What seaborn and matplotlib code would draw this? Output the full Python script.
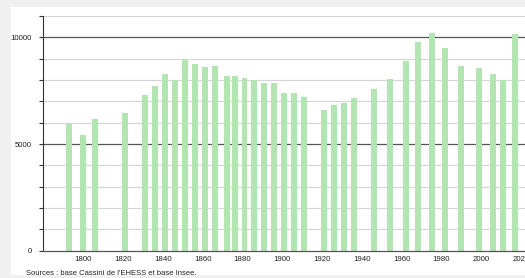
import matplotlib
matplotlib.use("Agg")
import matplotlib.pyplot as plt
import seaborn as sns
import pandas as pd
from matplotlib.patches import Rectangle

years = [1793, 1800, 1806, 1821, 1831, 1836, 1841, 1846, 1851, 1856, 1861, 1866,
         1872, 1876, 1881, 1886, 1891, 1896, 1901, 1906, 1911, 1921, 1926, 1931,
         1936, 1946, 1954, 1962, 1968, 1975, 1982, 1990, 1999, 2006, 2011, 2017]
population = [5920, 5440, 6150, 6470, 7310, 7720, 8300, 8010, 8970, 8750, 8630, 8670,
              8170, 8200, 8110, 8020, 7840, 7880, 7410, 7400, 7220, 6610, 6840, 6900,
              7140, 7600, 8060, 8890, 9800, 10190, 9500, 8660, 8550, 8280, 8000, 10170]
y_ticks_labeled = [0, 5000, 10000]
x_ticks = [1800, 1820, 1840, 1860, 1880, 1900, 1920, 1940, 1960, 1980, 2000, 2020]
source_text = "Sources : base Cassini de l'EHESS et base Insee."

df = pd.DataFrame({"year": years, "pop": population})

sns.set_style("white")
plt.rcParams['font.family'] = ['Liberation Sans', 'DejaVu Sans']

fig = plt.figure(figsize=(5.25, 2.78), dpi=100, facecolor="#f0f0f0")
bg = fig.add_axes([0, 0, 1, 1], zorder=-5)
bg.set_xlim(0, 525)
bg.set_ylim(278, 0)
bg.axis("off")
bg.add_patch(Rectangle((11, 7), 514, 268, facecolor="white", edgecolor="none"))

ax = fig.add_axes([43.3/525, 1 - 250.7/278, 1 - 43.3/525, (250.7 - 16.0)/278], zorder=1)
ax.set_facecolor("none")

sns.barplot(data=df, x="year", y="pop", native_scale=True, width=0.75,
            color="#b3e5b3", saturation=1, errorbar=None, ax=ax, zorder=3,
            linewidth=0)

ax.set_xlim(1779.9, 1779.9 + (525 - 43.3) / 1.99)
ax.set_ylim(0, 11000)

for v in range(1000, 11001, 1000):
    if v in (5000, 10000):
        ax.axhline(v, color="#555555", lw=0.9, zorder=1)
    else:
        ax.axhline(v, color="#d4d4d4", lw=0.8, zorder=1)

ax.set_yticks(range(0, 11001, 1000))
ax.set_yticklabels([str(v) if v in y_ticks_labeled else "" for v in range(0, 11001, 1000)])
ax.set_xticks(x_ticks)
ax.set_xticklabels([str(x) for x in x_ticks])
ax.tick_params(axis="y", length=3, width=0.8, color="#333333", pad=5,
               labelsize=5.6, labelcolor="#222222", left=True)
ax.tick_params(axis="x", length=0, pad=3.5, labelsize=5.7, labelcolor="#222222")
ax.set_xlabel("")
ax.set_ylabel("")

for s in ("top", "right"):
    ax.spines[s].set_visible(False)
ax.spines["left"].set_color("#333333")
ax.spines["left"].set_linewidth(0.8)
ax.spines["bottom"].set_color("#555555")
ax.spines["bottom"].set_linewidth(0.9)
ax.spines["left"].set_zorder(4)
ax.spines["bottom"].set_zorder(4)

bg.text(25.7, 273.3, source_text, fontsize=5.5, color="#222222",
        ha="left", va="center")

fig.savefig("out.png", dpi=100, facecolor=fig.get_facecolor())
